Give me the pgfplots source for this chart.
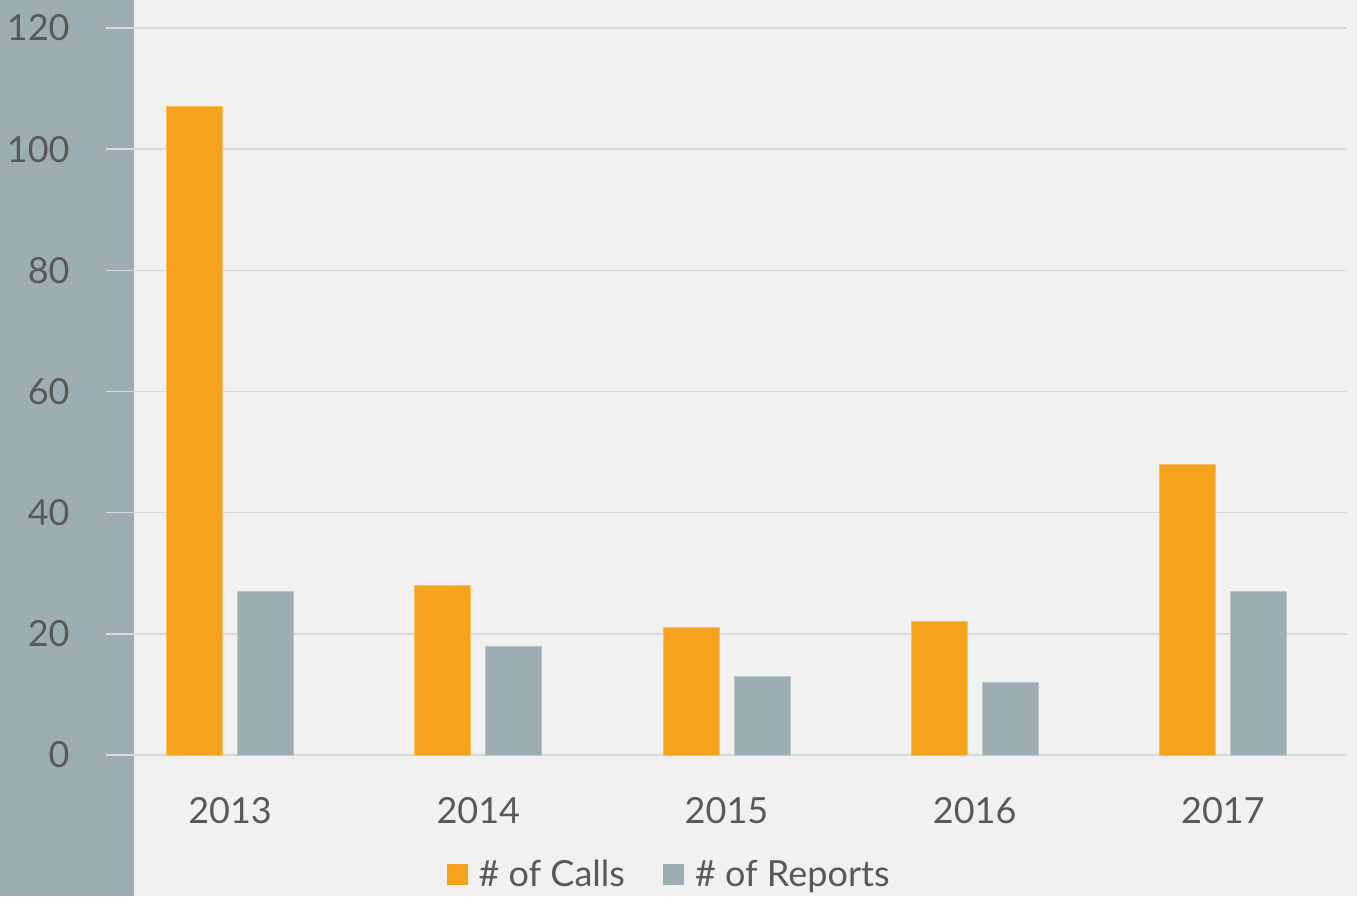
\documentclass[border=0pt]{standalone}
\usepackage{fontspec}
\setmainfont{Lato}
\usepackage{pgfplots}
\pgfplotsset{compat=1.18}
\definecolor{bgc}{HTML}{F1F1F1}
\definecolor{strip}{HTML}{9CAEB3}
\definecolor{orangec}{HTML}{F5A31D}
\definecolor{grayc}{HTML}{9CAEB3}
\definecolor{gridc}{HTML}{D9D9D9}
\definecolor{txt}{HTML}{595959}
\begin{document}
\begin{tikzpicture}
\fill[bgc] (0,0) rectangle (678.5pt,448pt);
\fill[strip] (0,0) rectangle (67pt,448pt);
\useasboundingbox (0,0) rectangle (678.5pt,448pt);
\begin{axis}[
  at={(53pt,70.5pt)}, anchor=south west,
  scale only axis, width=620.5pt, height=363.5pt,
  xmin=-0.5, xmax=4.5, ymin=0, ymax=120,
  ybar=7.5pt, bar width=28pt,
  xtick={0,1,2,3,4}, xticklabels={2013,2014,2015,2016,2017},
  ytick={0,20,40,60,80,100,120},
  axis line style={draw=none}, tick style={draw=none},
  ymajorgrids, grid style={gridc, line width=0.75pt},
  /pgf/number format/assume math mode=true,
  every tick label/.append style={font=\fontsize{18}{21}\selectfont, text=txt},
  yticklabel style={anchor=east, inner sep=0pt, xshift=-18pt},
  xticklabel style={anchor=north, inner sep=0pt, yshift=-16.5pt},
  legend columns=2,
  legend style={at={(axis description cs:0.4545,-0.165)}, anchor=center, draw=none, fill=none,
    font=\fontsize{18}{21}\selectfont, text=txt,
    /tikz/every even column/.append style={column sep=17pt}},
  legend image code/.code={\fill[#1, draw=none] (0pt,-5.25pt) rectangle (10.5pt,5.25pt); \path[draw=none, fill=none] (0pt,0pt) -- (14pt,0pt);},
]
\addplot[fill=orangec, draw=orangec!70!white, line width=0.4pt] coordinates {(0,107) (1,28) (2,21) (3,22) (4,48)};
\addplot[fill=grayc, draw=grayc!70!white, line width=0.4pt] coordinates {(0,27) (1,18) (2,13) (3,12) (4,27)};
\legend{\# of Calls, \# of Reports}
\end{axis}
\end{tikzpicture}
\end{document}
